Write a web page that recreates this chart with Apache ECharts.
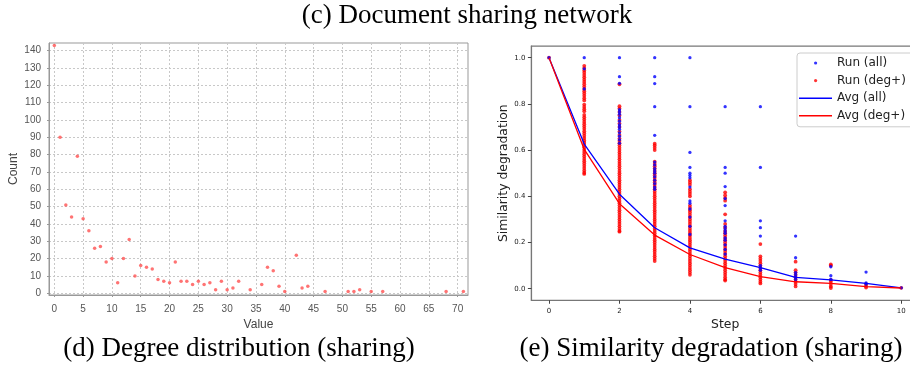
<!DOCTYPE html>
<html>
<head>
<meta charset="utf-8">
<script src="https://cdn.jsdelivr.net/npm/echarts@6/dist/echarts.min.js"></script>
<style>
html,body{margin:0;padding:0;background:#fff;}
#c{width:910px;height:379px;}
</style>
</head>
<body>
<div id="c"></div>
<script>
// ---- Left chart: degree distribution ----
const degValues = [0,1,2,3,4,5,6,7,8,9,10,11,12,13,14,15,16,17,18,19,20,21,22,23,24,25,26,27,28,29,30,31,32,34,36,37,38,39,40,42,43,44,47,51,52,53,55,57,68,71];
const degCounts = [143,90,51,44,79,43,36,26,27,18,20,6,20,31,10,16,15,14,8,7,6,18,7,7,5,7,5,6,2,7,2,3,7,2,5,15,13,4,1,22,3,4,1,1,1,2,1,1,1,1];
const degXTicks = [0,5,10,15,20,25,30,35,40,45,50,55,60,65,70];
const degYTicks = [0,10,20,30,40,50,60,70,80,90,100,110,120,130,140];

// ---- Right chart: similarity degradation ----
const steps = [0,1,2,3,4,5,6,7,8,9,10];
const runAll = [
  [1.0],
  [1.0,0.952,0.865],
  [1.0,0.918,0.889,0.775,0.765,0.755,0.74,0.725,0.71,0.70,0.69,0.675,0.66,0.645,0.63],
  [1.0,0.918,0.888,0.788,0.664,0.548,0.535,0.52,0.51,0.50,0.485,0.47,0.455,0.44,0.43],
  [1.0,0.788,0.59,0.525,0.50,0.49,0.48,0.44,0.38,0.37,0.345,0.31,0.27,0.235],
  [0.788,0.525,0.50,0.442,0.39,0.36,0.294,0.27,0.26,0.25,0.24,0.22,0.21,0.19,0.17,0.15],
  [0.788,0.525,0.294,0.264,0.228,0.10,0.09,0.08],
  [0.228,0.134,0.07,0.06,0.05,0.04],
  [0.095,0.056,0.04],
  [0.072,0.025,0.02],
  [0.004]
];
const runDeg = [
  [1.0],
  [0.965,0.955,0.945,0.935,0.925,0.915,0.905,0.895,0.885,0.875,0.865,0.855,0.845,0.835,0.825,0.815,0.797,0.787,0.777,0.768,0.752,0.742,0.732,0.722,0.712,0.702,0.692,0.682,0.672,0.662,0.652,0.642,0.632,0.622,0.612,0.602,0.592,0.582,0.572,0.562,0.552,0.542,0.532,0.522,0.512,0.502,0.497],
  [0.885,0.79,0.78,0.765,0.75,0.73,0.715,0.70,0.68,0.665,0.65,0.64,0.63,0.62,0.61,0.60,0.59,0.58,0.57,0.56,0.55,0.54,0.53,0.52,0.51,0.50,0.49,0.48,0.47,0.46,0.45,0.44,0.43,0.42,0.41,0.40,0.39,0.38,0.37,0.36,0.35,0.34,0.33,0.32,0.31,0.30,0.29,0.28,0.27,0.26,0.25,0.247],
  [0.628,0.62,0.61,0.60,0.55,0.54,0.53,0.52,0.51,0.50,0.49,0.48,0.47,0.46,0.45,0.44,0.43,0.42,0.41,0.40,0.39,0.38,0.37,0.36,0.35,0.34,0.33,0.32,0.31,0.30,0.29,0.28,0.27,0.26,0.25,0.24,0.23,0.22,0.21,0.20,0.19,0.18,0.17,0.16,0.15,0.14,0.13,0.12],
  [0.47,0.46,0.45,0.43,0.42,0.41,0.40,0.36,0.35,0.34,0.33,0.32,0.31,0.30,0.29,0.28,0.27,0.26,0.25,0.24,0.23,0.22,0.21,0.20,0.19,0.18,0.17,0.16,0.15,0.14,0.13,0.12,0.11,0.10,0.09,0.08,0.07,0.06],
  [0.417,0.405,0.393,0.381,0.322,0.28,0.265,0.25,0.24,0.23,0.22,0.21,0.20,0.19,0.18,0.17,0.16,0.15,0.14,0.13,0.12,0.11,0.10,0.09,0.08,0.07,0.06,0.05,0.04,0.035],
  [0.193,0.14,0.13,0.12,0.11,0.10,0.09,0.08,0.07,0.06,0.05,0.04,0.03,0.023],
  [0.117,0.08,0.07,0.06,0.05,0.04,0.03,0.02,0.01],
  [0.105,0.10,0.038,0.03,0.02,0.01,0.003],
  [0.02,0.012,0.005],
  [0.004]
];
const avgAll = [1.0,0.626,0.409,0.264,0.177,0.128,0.091,0.049,0.038,0.023,0.004];
const avgDeg = [1.0,0.603,0.368,0.232,0.148,0.091,0.052,0.030,0.023,0.009,0.003];
const stepXTicks = [0,2,4,6,8,10];
const simYTicks = [0,0.2,0.4,0.6,0.8,1.0];

const chart = echarts.init(document.getElementById('c'), null, {renderer:'canvas'});

const toPairs = (xs, groups) => xs.flatMap((s, i) => groups[i].map(v => [s, v]));
const mpl = 'DejaVu Sans';
const dotIcon = 'path://M0,0M33,10M15,5a1.6,1.6,0,1,0,3.2,0a1.6,1.6,0,1,0,-3.2,0z';
const lineIcon = 'path://M0,0M33,10M0,4.3h33v1.4h-33z';

const option = {
  animation: false,
  backgroundColor: '#fff',
  graphic: [
    {type:'text', x:467, y:16, style:{text:'(c) Document sharing network', font:'27px "Liberation Serif"', fill:'#000', textAlign:'center', textVerticalAlign:'middle'}},
    {type:'text', x:239, y:349, style:{text:'(d) Degree distribution (sharing)', font:'27px "Liberation Serif"', fill:'#000', textAlign:'center', textVerticalAlign:'middle'}},
    {type:'text', x:711, y:349, style:{text:'(e) Similarity degradation (sharing)', font:'27px "Liberation Serif"', fill:'#000', textAlign:'center', textVerticalAlign:'middle'}}
  ],
  legend: {
    orient: 'vertical',
    left: 797, top: 53,
    itemWidth: 33, itemHeight: 10, itemGap: 3.6,
    padding: [3, 8, 4, 2],
    borderColor: '#cccccc', borderWidth: 1, borderRadius: 3,
    backgroundColor: 'rgba(255,255,255,0.8)',
    textStyle: {fontFamily: mpl, fontSize: 12, color: '#222', lineHeight: 14},
    data: [
      {name:'Run (all)', icon: dotIcon},
      {name:'Run (deg+)', icon: dotIcon},
      {name:'Avg (all)', icon: lineIcon},
      {name:'Avg (deg+)', icon: lineIcon}
    ]
  },
  grid: [
    {left:49, top:43, width:419, height:252, show:true, borderColor:'#999', borderWidth:1, backgroundColor:'#fff', containLabel:false, outerBoundsMode:'none'},
    {left:531.4, top:46.15, width:387.5, height:254.1, show:true, borderColor:'#777', borderWidth:1.2, backgroundColor:'#fff', containLabel:false, outerBoundsMode:'none'}
  ],
  xAxis: [
    {type:'value', gridIndex:0, min:-0.92, max:71.8,
     name:'Value', nameLocation:'middle', nameGap:24,
     nameTextStyle:{fontFamily:'Liberation Sans', fontSize:12, color:'#444'},
     axisLine:{show:true, onZero:false, lineStyle:{color:'#999'}},
     axisTick:{show:true, length:2, inside:false, customValues:degXTicks, lineStyle:{color:'#999'}},
     axisLabel:{customValues:degXTicks, margin:9, fontFamily:'Liberation Sans', fontSize:10, color:'#555', formatter: v => String(Math.round(v))},
     splitLine:{show:true, lineStyle:{color:'#c8c8c8', type:[2,2], width:1}}},
    {type:'value', gridIndex:1, min:-0.5, max:10.5,
     name:'Step', nameLocation:'middle', nameGap:15,
     nameTextStyle:{fontFamily:mpl, fontSize:12.4, color:'#222'},
     axisLine:{show:true, onZero:false, lineStyle:{color:'#777', width:1.2}},
     axisTick:{show:true, length:3.5, inside:false, customValues:stepXTicks, lineStyle:{color:'#444'}},
     axisLabel:{customValues:stepXTicks, margin:7, fontFamily:mpl, fontSize:7, color:'#222', formatter: v => String(Math.round(v))},
     splitLine:{show:false}}
  ],
  yAxis: [
    {type:'value', gridIndex:0, min:-1, max:144.4,
     name:'Count', nameLocation:'middle', nameGap:29, nameRotate:90,
     nameTextStyle:{fontFamily:'Liberation Sans', fontSize:12, color:'#444'},
     axisLine:{show:true, onZero:false, lineStyle:{color:'#999'}},
     axisTick:{show:true, length:2, inside:false, customValues:degYTicks, lineStyle:{color:'#999'}},
     axisLabel:{customValues:degYTicks, margin:8, fontFamily:'Liberation Sans', fontSize:10, color:'#555', formatter: v => String(Math.round(v))},
     splitLine:{show:true, lineStyle:{color:'#c8c8c8', type:[2,2], width:1}}},
    {type:'value', gridIndex:1, min:-0.05, max:1.05,
     name:'Similarity degradation', nameLocation:'middle', nameGap:22, nameRotate:90,
     nameTextStyle:{fontFamily:mpl, fontSize:12.4, color:'#222'},
     axisLine:{show:true, onZero:false, lineStyle:{color:'#777', width:1.2}},
     axisTick:{show:true, length:3.5, inside:false, customValues:simYTicks, lineStyle:{color:'#444'}},
     axisLabel:{customValues:simYTicks, margin:6, fontFamily:mpl, fontSize:7, color:'#222', formatter: v => v.toFixed(1)},
     splitLine:{show:false}}
  ],
  series: [
    {name:'Degree', type:'scatter', xAxisIndex:0, yAxisIndex:0, symbol:'circle', symbolSize:3.5,
     itemStyle:{color:'#ff5050'}, data: degValues.map((v,i)=>[v, degCounts[i]])},
    {name:'Run (all)', type:'scatter', xAxisIndex:1, yAxisIndex:1, symbol:'circle', symbolSize:3.3, z:3,
     itemStyle:{color:'#0000ff'}, data: toPairs(steps, runAll)},
    {name:'Run (deg+)', type:'scatter', xAxisIndex:1, yAxisIndex:1, symbol:'circle', symbolSize:3.8, z:2,
     itemStyle:{color:'#ff0000'}, data: toPairs(steps, runDeg)},
    {name:'Avg (all)', type:'line', xAxisIndex:1, yAxisIndex:1, symbol:'none', z:4,
     itemStyle:{color:'#0000ff'}, lineStyle:{color:'#0000ff', width:1.3}, data: steps.map((s,i)=>[s, avgAll[i]])},
    {name:'Avg (deg+)', type:'line', xAxisIndex:1, yAxisIndex:1, symbol:'none', z:4,
     itemStyle:{color:'#ff0000'}, lineStyle:{color:'#ff0000', width:1.3}, data: steps.map((s,i)=>[s, avgDeg[i]])}
  ]
};
chart.setOption(option);
</script>
</body>
</html>
